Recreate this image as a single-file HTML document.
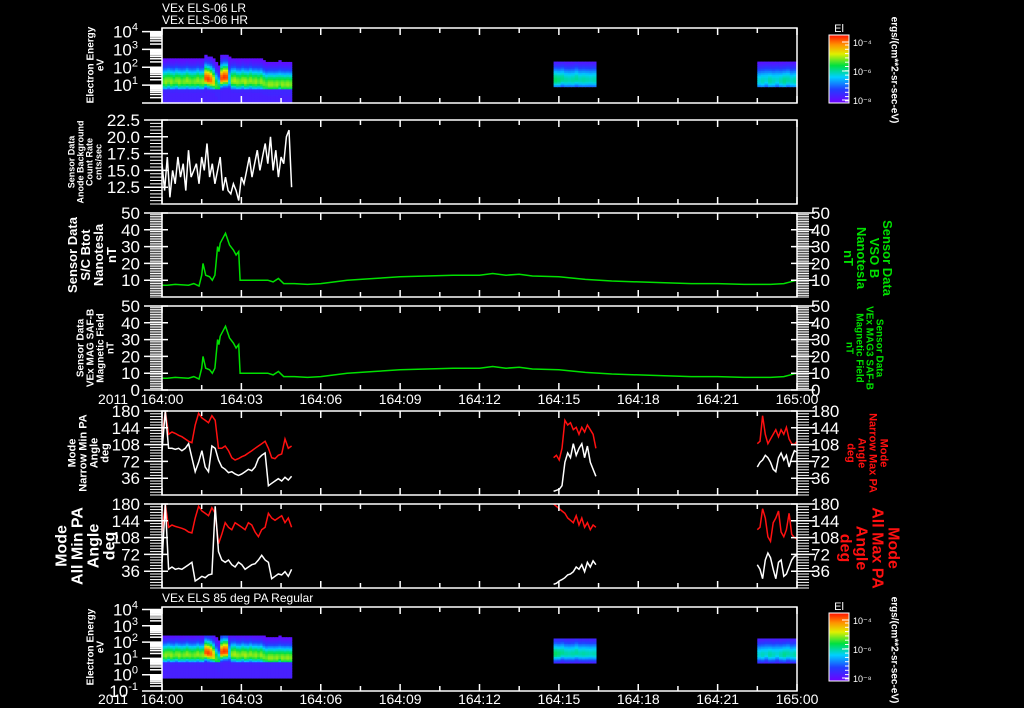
<!DOCTYPE html>
<html><head><meta charset="utf-8">
<style>
html,body{margin:0;padding:0;background:#000;}
svg{display:block;font-family:"Liberation Sans",sans-serif;}
</style></head>
<body>
<svg id="chart" width="1024" height="708" viewBox="0 0 1024 708" xmlns="http://www.w3.org/2000/svg">
<defs>
<linearGradient id="cbgrad" x1="0" y1="1" x2="0" y2="0">
<stop offset="0" stop-color="#7000ff"/><stop offset="0.2" stop-color="#2040ff"/><stop offset="0.38" stop-color="#00d0ff"/><stop offset="0.55" stop-color="#00e040"/><stop offset="0.72" stop-color="#e0f000"/><stop offset="0.86" stop-color="#ff9000"/><stop offset="1" stop-color="#ff1000"/>
</linearGradient>
</defs>
<g id="layer"></g>
</svg>
<script>
// ---- data ----
var timeTicks = ["164:00","164:03","164:06","164:09","164:12","164:15","164:18","164:21","165:00"];
var segStarts = [0, 14.8, 22.5];
var segEnds = [4.9, 16.4, 24.0];
// spectrogram columns (seg 1, every 0.1 h): peak log10(E) and peak normalized intensity
var specPeak = [1.2,1.2,1.25,1.2,1.2,1.25,1.2,1.2,1.2,1.25,1.2,1.2,1.2,1.25,1.2,1.2,1.4,1.35,1.3,1.2,1.0,0.8,1.4,1.45,1.45,1.3,1.25,1.25,1.2,1.2,1.25,1.2,1.2,1.25,1.2,1.2,1.2,1.2,1.1,1.05,1.05,1.05,1.05,1.05,1.1,1.05,1.05,1.05,1.05];
var specAmp = [0.62,0.66,0.64,0.66,0.62,0.64,0.66,0.62,0.64,0.66,0.64,0.62,0.64,0.66,0.64,0.66,0.93,0.95,0.9,0.78,0.6,0.55,0.93,0.96,0.94,0.42,0.66,0.68,0.66,0.64,0.66,0.68,0.64,0.66,0.64,0.66,0.62,0.66,0.64,0.62,0.66,0.66,0.64,0.66,0.62,0.66,0.64,0.66,0.64];
var spec2Peak = [1.3,1.3,1.35,1.3,1.3,1.3,1.35,1.3,1.3,1.3,1.3,1.3];
var spec2Amp = [0.52,0.5,0.48,0.46,0.45,0.46,0.47,0.45,0.46,0.45,0.44,0.45];
var spec3Peak = [1.25,1.25,1.3,1.25,1.25,1.3,1.25,1.25,1.3,1.25,1.25];
var spec3Amp = [0.42,0.44,0.42,0.46,0.44,0.42,0.45,0.48,0.46,0.44,0.46];
// anode background count rate (seg 1)
var bgCounts = [16,12,17,11,15,13,17,14,16,12,18,14,15,16,13,17,15,19,14,16,13,15,17,12,14,12,11.5,13,12,10.5,14,13,15,17,14,16,18,15,17,19,16,20,15,18,14,17,16,20,21,12.5];
// magnetic field
var bTimes = [0,0.2,0.5,1.0,1.2,1.4,1.5,1.55,1.65,1.8,1.9,2.0,2.1,2.15,2.2,2.4,2.55,2.7,2.8,2.9,2.95,3.5,4.0,4.2,4.4,4.6,5.0,5.5,6.0,7.0,8.0,9.0,10.0,11.0,12.0,12.5,13.0,13.5,14.0,15.0,16.0,17.0,18.0,19.0,20.0,21.0,22.0,23.0,23.5,24.0];
var bValues = [7,7,7.5,7,8,6.5,13,20,13,12,10,13,30,27,32,38,31,28,25,27,10,10,10,9,11,8,8,7.5,8,10,11,12,12.5,13,13,14,13,13.5,12.5,12,10.5,9.5,9,8.5,8,8,7.5,7.5,8,10];
var bMagValues = [7,7,7.5,7,8,6.5,13,20,13,12,10,13,30,27,32,38,31,28,25,27,10,10,10,9,11,8,8,7.5,8,10,11,12,12.5,13,13,14,13,13.5,12.5,12,10.5,9.5,9,8.5,8,8,7.5,7.5,8,10];
// pitch angles, per segment uniform in time
var nMaxS1 = [120,180,130,135,132,128,125,120,115,112,150,175,165,160,155,170,160,100,100,105,95,80,75,78,82,85,90,95,100,105,110,115,100,80,78,85,88,120,100,105];
var nMinS1 = [95,180,100,100,98,100,95,100,110,80,50,70,95,60,50,105,100,75,60,55,48,50,45,42,45,50,55,52,60,78,85,90,20,25,30,35,30,38,32,40];
var nMaxS2 = [80,85,75,100,160,150,155,140,145,130,145,135,150,140,130,100];
var nMinS2 = [8,10,12,20,70,90,80,110,85,100,110,80,105,70,55,40];
var nMaxS3 = [110,115,170,130,110,120,130,140,125,140,130,145,120,110,108,115];
var nMinS3 = [60,70,75,85,80,70,55,50,80,90,75,85,60,80,95,92];
var aMaxS1 = [120,180,130,135,132,130,128,125,120,118,150,175,165,160,155,172,160,95,115,140,130,125,140,135,130,125,140,135,120,110,125,130,160,150,145,150,155,140,150,130];
var aMinS1 = [55,180,40,45,40,42,40,45,50,55,15,20,25,22,28,30,175,78,60,55,60,50,45,55,50,40,45,50,52,60,70,60,55,20,25,30,28,35,25,40];
var aMaxS2 = [180,175,170,165,160,150,145,140,155,135,150,130,140,125,135,130];
var aMinS2 = [8,10,15,18,22,28,30,35,45,40,50,35,55,45,58,50];
var aMaxS3 = [125,130,170,150,110,100,140,150,165,120,110,125,160,115,108,105];
var aMinS3 = [50,40,20,60,75,65,40,20,55,60,25,30,45,60,68,70];

// ---- helpers ----
var NS="http://www.w3.org/2000/svg";
var L=document.getElementById('layer');
var X0=162,X1=797;
function xOf(h){return X0+h/24*(X1-X0);}
function mk(tag,attrs,parent){var e=document.createElementNS(NS,tag);for(var k in attrs)e.setAttribute(k,attrs[k]);(parent||L).appendChild(e);return e;}
function lin(v,lo,hi,top,bot){return bot-(v-lo)/(hi-lo)*(bot-top);}
function cmap(v){
  var st=[[0,112,0,255],[0.2,32,64,255],[0.38,0,208,255],[0.55,0,224,64],[0.72,224,240,0],[0.86,255,144,0],[1,255,16,0]];
  v=Math.max(0,Math.min(1,v));
  for(var i=1;i<st.length;i++){if(v<=st[i][0]){var a=st[i-1],b=st[i],t=(v-a[0])/(b[0]-a[0]);
    return 'rgb('+Math.round(a[1]+t*(b[1]-a[1]))+','+Math.round(a[2]+t*(b[2]-a[2]))+','+Math.round(a[3]+t*(b[3]-a[3]))+')';}}
  return 'rgb(255,16,0)';
}
function txt(x,y,s,attrs,parent){var a={x:x,y:y,fill:'#fff','font-size':14};for(var k in attrs)a[k]=attrs[k];var t=mk('text',a,parent);t.textContent=s;return t;}
function multiText(cx,cy,lines,size,color,rot,name){
  var g=mk('g',{transform:'translate('+cx+','+cy+') rotate('+rot+')'});
  
  
  var n=lines.length, lh=size*1.0;
  for(var i=0;i<n;i++){txt(0,(i-(n-1)/2)*lh+size*0.35,lines[i],{'text-anchor':'middle','font-size':size,'font-weight':'bold',fill:color},g);}
  return g;
}
function frame(top,bot,name){
  var r=mk('rect',{x:X0,y:top,width:X1-X0,height:bot-top,fill:'none',stroke:'#fff','stroke-width':1.5});
  
  
  for(var i=0;i<=16;i++){var x=xOf(i*1.5),len=(i%2==0)?7:5;
    mk('line',{x1:x,y1:bot,x2:x,y2:bot-len,stroke:'#fff','stroke-width':1.5});
    mk('line',{x1:x,y1:top,x2:x,y2:top+len,stroke:'#fff','stroke-width':1.5});}
}
function linAxis(top,bot,lo,hi,major,minor,labels,right,name){
  var g=mk('g',{});
  
  
  var xe=right?X1:X0, d=right?-1:1;
  for(var v=lo;v<=hi+1e-6;v+=minor){var y=lin(v,lo,hi,top,bot);
    mk('line',{x1:xe-d*12,y1:y,x2:xe,y2:y,stroke:'#fff','stroke-width':1},g);}
  for(var i=0;i<labels.length;i++){var y=lin(labels[i],lo,hi,top,bot);
    mk('line',{x1:xe-d*18,y1:y,x2:xe+d*6,y2:y,stroke:'#fff','stroke-width':1.5},g);
    var s=(major? labels[i].toFixed(major):String(labels[i]));
    if(right)txt(xe+14,y+6,s,{'font-size':17},g);
    else txt(xe-22,y+6,s,{'font-size':17,'text-anchor':'end'},g);}
}
function logAxis(top,bot,lo,hi,labels,name){
  var g=mk('g',{});
  
  
  for(var d=Math.floor(lo);d<hi;d++){for(var m=1;m<10;m++){var lv=d+Math.log10(m);if(lv<lo||lv>hi)continue;
    var y=lin(lv,lo,hi,top,bot);mk('line',{x1:X0-(m==1?20:12),y1:y,x2:X0,y2:y,stroke:'#fff','stroke-width':1.5},g);}}
  for(var i=0;i<labels.length;i++){var y=lin(labels[i],lo,hi,top,bot);
    var t=txt(X0-24,y+6,'',{'font-size':17,'text-anchor':'end'},g);
    var a=document.createElementNS(NS,'tspan');a.textContent='10';t.appendChild(a);
    var b=document.createElementNS(NS,'tspan');b.setAttribute('dy','-7');b.setAttribute('font-size','11');b.textContent=String(labels[i]);t.appendChild(b);}
}
function timeLabels(y,name){
  var g=mk('g',{});
  
  
  txt(113,y,'2011',{'font-size':14,'text-anchor':'middle',fill:'#fff'},g);
  for(var i=0;i<timeTicks.length;i++)txt(xOf(i*3),y,timeTicks[i],{'font-size':14,'text-anchor':'middle'},g);
}
function spectro(top,bot,lo,hi,segIdx,peaks,amps,eLo,eHi,name){
  var g=mk('g',{});
  
  
  var t0=segStarts[segIdx],t1=segEnds[segIdx],n=peaks.length,dt=(t1-t0)/n,de=0.1;
  for(var i=0;i<n;i++){var xa=xOf(t0+i*dt),xb=xOf(t0+(i+1)*dt);
    for(var e=eLo;e<eHi-1e-6;e+=de){var c=e+de/2,v;
      var p=peaks[i],a=amps[i];
      if(c<p) v=Math.max(0.1,a*Math.exp(-Math.pow((c-p)/0.45,2)));
      else v=a*Math.exp(-Math.pow((c-p)/0.75,2));
      if(c>p+1.3){if(segIdx==0)continue; v=0.08;}
      if(segIdx==0&&c<0.85) v=Math.min(v,0.12);
      var ya=lin(e+de,lo,hi,top,bot),yb=lin(e,lo,hi,top,bot);
      mk('rect',{x:xa,y:ya,width:xb-xa+0.6,height:yb-ya+0.6,fill:cmap(v)},g);}}
}
function poly(times,vals,lo,hi,top,bot,color,name){
  var pts=[];for(var i=0;i<vals.length;i++)pts.push(xOf(times[i]).toFixed(1)+','+lin(Math.max(lo,Math.min(hi,vals[i])),lo,hi,top,bot).toFixed(1));
  var p=mk('polyline',{points:pts.join(' '),fill:'none',stroke:color,'stroke-width':1.5});
  
  
}
function segPoly(segIdx,vals,lo,hi,top,bot,color,name){
  var t0=segStarts[segIdx],t1=segEnds[segIdx],ts=[];
  for(var i=0;i<vals.length;i++)ts.push(t0+(t1-t0)*i/(vals.length-1));
  poly(ts,vals,lo,hi,top,bot,color,name);
}
function colorbar(top,name){
  var g=mk('g',{});
  
  
  txt(839,top-3,'El',{'font-size':11,'text-anchor':'middle'},g);
  mk('rect',{x:829,y:top,width:20,height:68,fill:'url(#cbgrad)',stroke:'#fff','stroke-width':1},g);
  var labs=['10\u207B\u2074','10\u207B\u2076','10\u207B\u2078'];
  for(var i=0;i<3;i++){var y=top+7+i*29;txt(853,y+4,labs[i],{'font-size':9},g);
    mk('line',{x1:842,y1:y,x2:849,y2:y,stroke:'#fff'},g);}
  for(var j=0;j<14;j++){var y=top+10+j*4.3;mk('line',{x1:845,y1:y,x2:849,y2:y,stroke:'#fff'},g);}
}

// ---- panel 1 ----
var P1=[28,103];
txt(162,12,'VEx ELS-06 LR',{'font-size':12,});
txt(162,24,'VEx ELS-06 HR',{'font-size':12,});
spectro(P1[0],P1[1],0,4.2,0,specPeak,specAmp,0,3.0,'spectrogram-1-seg1');
spectro(P1[0],P1[1],0,4.2,1,spec2Peak,spec2Amp,0.92,2.26,'spectrogram-1-seg2');
spectro(P1[0],P1[1],0,4.2,2,spec3Peak,spec3Amp,0.92,2.26,'spectrogram-1-seg3');
frame(P1[0],P1[1],'panel-1-frame');
logAxis(P1[0],P1[1],0,4.2,[1,2,3,4],'panel-1-y-axis');
multiText(95,65,['Electron Energy','eV'],10,'#fff',-90,'panel-1-y-title');
colorbar(35,'colorbar-1');

// ---- panel 2 ----
var P2=[120,204];
(function(){var ts=[];for(var i=0;i<bgCounts.length;i++)ts.push(4.9*i/(bgCounts.length-1));
  poly(ts,bgCounts,10,22.5,P2[0],P2[1],'#fff','background-count-line');})();
frame(P2[0],P2[1],'panel-2-frame');
linAxis(P2[0],P2[1],10,22.5,1,0.5,[12.5,15.0,17.5,20.0,22.5],false,'panel-2-y-axis');
multiText(85,162,['Sensor Data','Anode Background','Count Rate','cnts/sec'],9,'#fff',-90,'panel-2-y-title');

// ---- panel 3 ----
var P3=[213,297];
poly(bTimes,bValues,0,50,P3[0],P3[1],'#00e000','btot-line');
frame(P3[0],P3[1],'panel-3-frame');
linAxis(P3[0],P3[1],0,50,0,1,[10,20,30,40,50],false,'panel-3-y-axis-left');
linAxis(P3[0],P3[1],0,50,0,1,[10,20,30,40,50],true,'panel-3-y-axis-right');
multiText(92,255,['Sensor Data','S/C Btot','Nanotesla','nT'],13,'#fff',-90,'panel-3-y-title');
multiText(868,258,['Sensor Data','VSO B','Nanotesla','nT'],13,'#00e000',90,'panel-3-right-title');

// ---- panel 4 ----
var P4=[306,390];
poly(bTimes,bMagValues,0,50,P4[0],P4[1],'#00e000','mag-field-line');
frame(P4[0],P4[1],'panel-4-frame');
linAxis(P4[0],P4[1],0,50,0,1,[0,10,20,30,40,50],false,'panel-4-y-axis-left');
linAxis(P4[0],P4[1],0,50,0,1,[0,10,20,30,40,50],true,'panel-4-y-axis-right');
multiText(95,348,['Sensor Data','VEx MAG SAF-B','Magnetic Field','nT'],10,'#fff',-90,'panel-4-y-title');
multiText(865,348,['Sensor Data','VEx MAG3 SAF-B','Magnetic Field','nT'],10,'#00e000',90,'panel-4-right-title');
timeLabels(404,'time-axis-labels-top');

// ---- panel 5 ----
var P5=[411,495];
segPoly(0,nMaxS1,0,180,P5[0],P5[1],'#ff1010','narrow-max-pa-seg1');
segPoly(1,nMaxS2,0,180,P5[0],P5[1],'#ff1010','narrow-max-pa-seg2');
segPoly(2,nMaxS3,0,180,P5[0],P5[1],'#ff1010','narrow-max-pa-seg3');
segPoly(0,nMinS1,0,180,P5[0],P5[1],'#fff','narrow-min-pa-seg1');
segPoly(1,nMinS2,0,180,P5[0],P5[1],'#fff','narrow-min-pa-seg2');
segPoly(2,nMinS3,0,180,P5[0],P5[1],'#fff','narrow-min-pa-seg3');
frame(P5[0],P5[1],'panel-5-frame');
linAxis(P5[0],P5[1],0,180,0,6,[36,72,108,144,180],false,'panel-5-y-axis-left');
linAxis(P5[0],P5[1],0,180,0,6,[36,72,108,144,180],true,'panel-5-y-axis-right');
multiText(88,453,['Mode','Narrow Min PA','Angle','deg'],11,'#fff',-90,'panel-5-y-title');
multiText(868,453,['Mode','Narrow Max PA','Angle','deg'],11,'#ff1010',90,'panel-5-right-title');

// ---- panel 6 ----
var P6=[504,588];
segPoly(0,aMaxS1,0,180,P6[0],P6[1],'#ff1010','all-max-pa-seg1');
segPoly(1,aMaxS2,0,180,P6[0],P6[1],'#ff1010','all-max-pa-seg2');
segPoly(2,aMaxS3,0,180,P6[0],P6[1],'#ff1010','all-max-pa-seg3');
segPoly(0,aMinS1,0,180,P6[0],P6[1],'#fff','all-min-pa-seg1');
segPoly(1,aMinS2,0,180,P6[0],P6[1],'#fff','all-min-pa-seg2');
segPoly(2,aMinS3,0,180,P6[0],P6[1],'#fff','all-min-pa-seg3');
frame(P6[0],P6[1],'panel-6-frame');
linAxis(P6[0],P6[1],0,180,0,6,[36,72,108,144,180],false,'panel-6-y-axis-left');
linAxis(P6[0],P6[1],0,180,0,6,[36,72,108,144,180],true,'panel-6-y-axis-right');
multiText(85,546,['Mode','All Min PA','Angle','deg'],16,'#fff',-90,'panel-6-y-title');
multiText(870,548,['Mode','All Max PA','Angle','deg'],16,'#ff1010',90,'panel-6-right-title');

// ---- panel 7 ----
var P7=[607,691];
txt(162,602,'VEx ELS 85 deg PA Regular',{'font-size':12,});
spectro(P7[0],P7[1],-1,4.15,0,specPeak,specAmp,-0.2,2.4,'spectrogram-7-seg1');
spectro(P7[0],P7[1],-1,4.15,1,spec2Peak,spec2Amp,0.72,2.16,'spectrogram-7-seg2');
spectro(P7[0],P7[1],-1,4.15,2,spec3Peak,spec3Amp,0.72,2.16,'spectrogram-7-seg3');
frame(P7[0],P7[1],'panel-7-frame');
logAxis(P7[0],P7[1],-1,4.15,[-1,0,1,2,3,4],'panel-7-y-axis');
multiText(95,647,['Electron Energy','eV'],10,'#fff',-90,'panel-7-y-title');
colorbar(613,'colorbar-7');
timeLabels(704,'time-axis-labels-bottom');

multiText(895,70,['ergs/(cm**2-sr-sec-eV)'],10,'#fff',90,'colorbar-units-1');
multiText(895,650,['ergs/(cm**2-sr-sec-eV)'],10,'#fff',90,'colorbar-units-7');
</script>
</body></html>
